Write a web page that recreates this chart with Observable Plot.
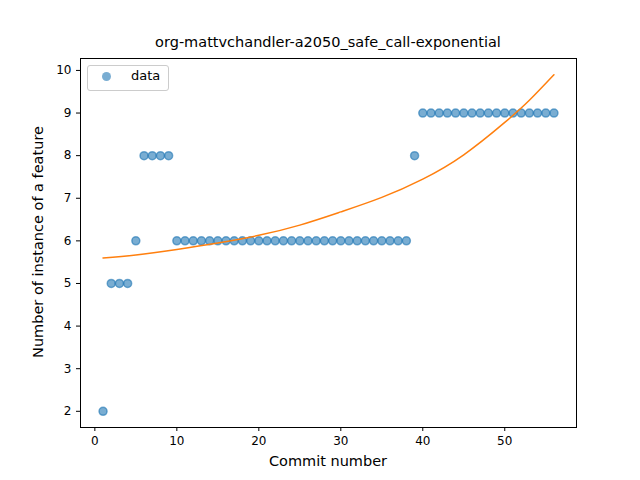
<!DOCTYPE html>
<html><head><meta charset="utf-8">
<script src="https://cdn.jsdelivr.net/npm/d3@7"></script>
<script src="https://cdn.jsdelivr.net/npm/@observablehq/plot@0.6"></script>
<style>
body{margin:0;background:#fff;font-family:"DejaVu Sans",sans-serif;}
#wrap{position:relative;width:640px;height:480px;}
.t{position:absolute;white-space:nowrap;color:#000;}
</style></head><body>
<div id="wrap"></div>
<script>
const commits = Array.from({length:56},(_,i)=>i+1);
const counts = [2,5,5,5,6,8,8,8,8,6,6,6,6,6,6,6,6,6,6,6,6,6,6,6,6,6,6,6,6,6,6,6,6,6,6,6,6,6,8,9,9,9,9,9,9,9,9,9,9,9,9,9,9,9,9,9];
const fitX = [1,5,10,15,20,25,30,35,40,45,50,53,56];
const fitY = [5.6,5.67,5.8,5.95,6.13,6.37,6.68,7.02,7.45,8.02,8.78,9.3,9.9];
const pts = commits.map((c,i)=>({x:c,y:counts[i]}));
const fit = fitX.map((x,i)=>({x,y:fitY[i]}));
const plot = Plot.plot({
  width:640,height:480,marginLeft:80,marginRight:64,marginTop:58,marginBottom:53,
  style:{fontFamily:"DejaVu Sans",fontSize:"12px",color:"#000"},
  x:{domain:[-1.75,58.75],ticks:[0,10,20,30,40,50],tickSize:4,label:null},
  y:{domain:[1.62,10.28],ticks:[2,3,4,5,6,7,8,9,10],tickSize:4,label:null},
  marks:[
    Plot.frame({stroke:"#000"}),
    Plot.dot(pts,{x:"x",y:"y",r:4,fill:"#1f77b4",fillOpacity:0.6,stroke:"#1f77b4",strokeOpacity:0.6}),
    Plot.line(fit,{x:"x",y:"y",stroke:"#ff7f0e",strokeWidth:1.5,curve:"natural"})
  ]
});
const w=document.getElementById("wrap");
w.appendChild(plot);
w.insertAdjacentHTML("beforeend",`
<div class="t" style="left:328px;top:34px;transform:translateX(-50%);font-size:14.5px">org-mattvchandler-a2050_safe_call-exponential</div>
<div class="t" style="left:328px;top:453px;transform:translateX(-50%);font-size:14.5px">Commit number</div>
<div class="t" style="left:38px;top:242px;transform:translate(-50%,-50%) rotate(-90deg);font-size:14.5px">Number of instance of a feature</div>
<div class="t" style="left:87px;top:65px;width:80px;height:24px;border:1px solid #ccc;border-radius:3px;background:#fff"></div>
<div class="t" style="left:102px;top:72px;width:9px;height:9px;border-radius:50%;background:rgba(31,119,180,0.6)"></div>
<div class="t" style="left:131px;top:68px;font-size:13px">data</div>
`);
</script></body></html>
